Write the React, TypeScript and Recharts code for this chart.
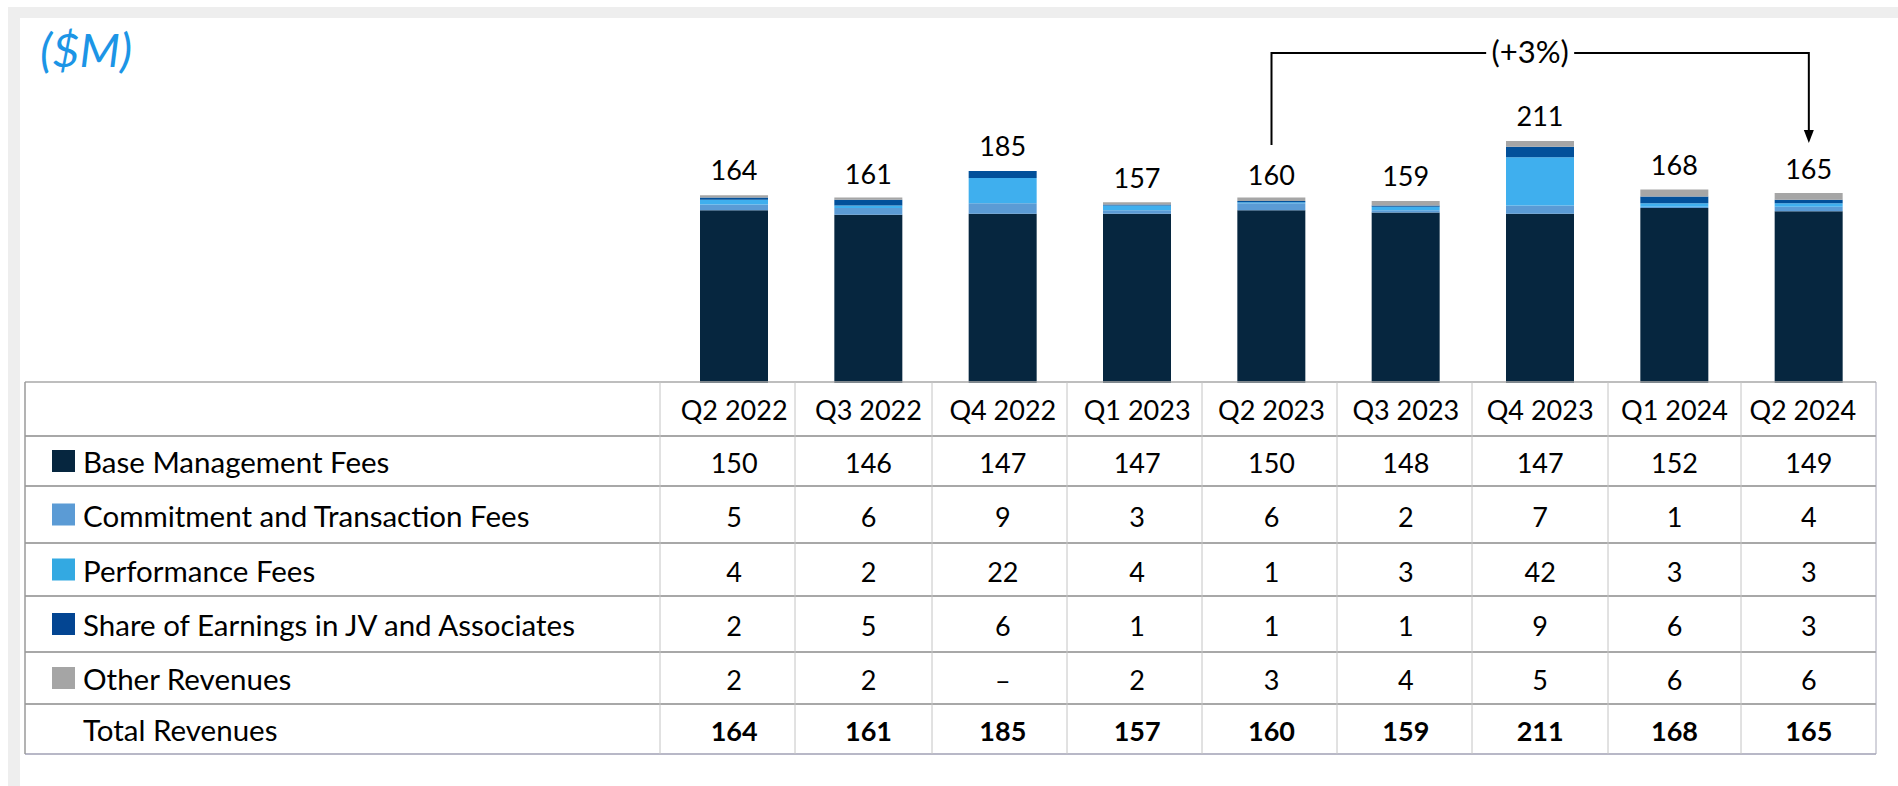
import React from "react";
import { BarChart, Bar, XAxis, YAxis, LabelList } from "recharts";

const quarters = ["Q2 2022", "Q3 2022", "Q4 2022", "Q1 2023", "Q2 2023", "Q3 2023", "Q4 2023", "Q1 2024", "Q2 2024"];
const baseFees = [150, 146, 147, 147, 150, 148, 147, 152, 149];
const commitmentFees = [5, 6, 9, 3, 6, 2, 7, 1, 4];
const performanceFees = [4, 2, 22, 4, 1, 3, 42, 3, 3];
const shareEarnings = [2, 5, 6, 1, 1, 1, 9, 6, 3];
const otherRevenues = [2, 2, 0, 2, 3, 4, 5, 6, 6];
const totalRevenues = [164, 161, 185, 157, 160, 159, 211, 168, 165];

const seriesNames = [
    "Base Management Fees",
    "Commitment and Transaction Fees",
    "Performance Fees",
    "Share of Earnings in JV and Associates",
    "Other Revenues",
];
const barColors = ["#06263f", "#5b9bd5", "#3fafee", "#02509a", "#a6a6a6"];
const legendColors = ["#06263f", "#5b9bd5", "#33a9e2", "#034592", "#a5a5a5"];
const seriesValues = [baseFees, commitmentFees, performanceFees, shareEarnings, otherRevenues];
const growthLabel = "(+3%)";

const chartData = quarters.map((q, i) => ({
    quarter: q,
    base: baseFees[i],
    commitment: commitmentFees[i],
    performance: performanceFees[i],
    share: shareEarnings[i],
    other: otherRevenues[i],
}));

// layout
const W = 1898;
const H = 786;
const PLOT_LEFT = 667;
const PLOT_RIGHT = 1876;
const PLOT_TOP = 95;
const BASE_Y = 383;
const BAND = (PLOT_RIGHT - PLOT_LEFT) / quarters.length;
const barCenter = (i: number) => PLOT_LEFT + BAND * (i + 0.5);

const FONT = 'Lato, "Open Sans", sans-serif';
const FS = 27;
const FS_NAME = 29.5;
const TABLE_LEFT = 25;
const COL_LINES = [660, 795, 932, 1067, 1202, 1337, 1472, 1608, 1741, 1876];
const ROW_LINES = [382, 436, 486, 543, 596, 652, 704, 754];
const TEXT_DY = 12;

// total label sits above the whole stack, derived from the base bar's own scale
const TotalLabel = (props: any) => {
    const { x, y, width, height, index } = props;
    const perUnit = height / baseFees[index];
    const top = y + height - totalRevenues[index] * perUnit;
    return (
        <text x={x + width / 2} y={top - 14} textAnchor="middle" fontSize={FS} fontFamily={FONT} fill="#000">
            {totalRevenues[index]}
        </text>
    );
};

const Table = () => {
    const rowCenter = (r: number) => (ROW_LINES[r] + ROW_LINES[r + 1]) / 2;
    const rows = [...seriesValues.map((vals, k) => ({ name: seriesNames[k], vals, color: legendColors[k], bold: false })),
        { name: "Total Revenues", vals: totalRevenues, color: null as string | null, bold: true }];
    return (
        <g fontFamily={FONT} fontSize={FS} fill="#000">
            {ROW_LINES.map((y, r) => (
                <line key={"h" + r} x1={TABLE_LEFT} x2={PLOT_RIGHT} y1={y} y2={y}
                    stroke={r === ROW_LINES.length - 1 ? "#a0a0b4" : "#a8a8a8"} strokeWidth={r === 0 || r === ROW_LINES.length - 1 ? 1.5 : 2} />
            ))}
            <line x1={TABLE_LEFT} x2={TABLE_LEFT} y1={ROW_LINES[0]} y2={ROW_LINES[ROW_LINES.length - 1]} stroke="#9a9a9a" strokeWidth={1.5} />
            {COL_LINES.map((x, c) => (
                <line key={"v" + c} x1={x} x2={x} y1={ROW_LINES[0]} y2={ROW_LINES[ROW_LINES.length - 1]}
                    stroke={c === COL_LINES.length - 1 ? "#a8a8b8" : "#c4c4c4"} strokeWidth={1} />
            ))}
            {quarters.map((q, i) => (
                <text key={"q" + i} x={barCenter(i) - (i === quarters.length - 1 ? 6 : 0)} y={rowCenter(0) + 11} textAnchor="middle">{q}</text>
            ))}
            {rows.map((row, r) => (
                <g key={"r" + r}>
                    {row.color && <rect x={52} y={rowCenter(r + 1) - 11} width={23} height={22} fill={row.color} />}
                    <text x={83} y={rowCenter(r + 1) + TEXT_DY} fontSize={FS_NAME}>{row.name}</text>
                    {row.vals.map((v, i) => (
                        <text key={i} x={barCenter(i)} y={rowCenter(r + 1) + TEXT_DY} textAnchor="middle" fontWeight={row.bold ? 700 : 400}>
                            {v === 0 ? "–" : v}
                        </text>
                    ))}
                </g>
            ))}
        </g>
    );
};

const Bracket = () => {
    const x1 = barCenter(4);
    const x2 = barCenter(8);
    const y = 53;
    const mid = (x1 + x2) / 2 - 10;
    return (
        <g>
            <path d={`M${x1},145 V${y} H${x2} V132`} fill="none" stroke="#000" strokeWidth={2} />
            <polygon points={`${x2 - 5},130 ${x2 + 5},130 ${x2},143`} fill="#000" />
            <rect x={mid - 44} y={y - 18} width={88} height={36} fill="#fff" />
            <text x={mid} y={y + 10} textAnchor="middle" fontSize={31} fontFamily={FONT} fill="#000">{growthLabel}</text>
        </g>
    );
};

export default function App() {
    return (
        <div style={{ position: "absolute", left: 0, top: 0, width: W, height: H, background: "#fff", overflow: "hidden", fontFamily: FONT }}>
            <div style={{ position: "absolute", left: 8, top: 7, width: W - 8, height: 11, background: "#eeeeee" }} />
            <div style={{ position: "absolute", left: 8, top: 7, width: 12, height: H - 7, background: "#eeeeee" }} />
            <div style={{ position: "absolute", left: 40, top: 26, fontSize: 47, lineHeight: 1, fontStyle: "italic", color: "#1c95e6" }}>($M)</div>
            <div style={{ position: "absolute", left: 0, top: 0 }}>
                <BarChart width={W} height={H} data={chartData}
                    margin={{ top: PLOT_TOP, right: W - PLOT_RIGHT, bottom: H - BASE_Y, left: PLOT_LEFT }}>
                    <XAxis dataKey="quarter" hide />
                    <YAxis hide domain={[0, 250]} />
                    <Bar dataKey="base" stackId="a" fill={barColors[0]} barSize={68} isAnimationActive={false}>
                        <LabelList dataKey="base" content={TotalLabel} />
                    </Bar>
                    <Bar dataKey="commitment" stackId="a" fill={barColors[1]} barSize={68} isAnimationActive={false} />
                    <Bar dataKey="performance" stackId="a" fill={barColors[2]} barSize={68} isAnimationActive={false} />
                    <Bar dataKey="share" stackId="a" fill={barColors[3]} barSize={68} isAnimationActive={false} />
                    <Bar dataKey="other" stackId="a" fill={barColors[4]} barSize={68} isAnimationActive={false} />
                </BarChart>
            </div>
            <svg width={W} height={H} style={{ position: "absolute", left: 0, top: 0, pointerEvents: "none" }}>
                <Table />
                <Bracket />
            </svg>
        </div>
    );
}
